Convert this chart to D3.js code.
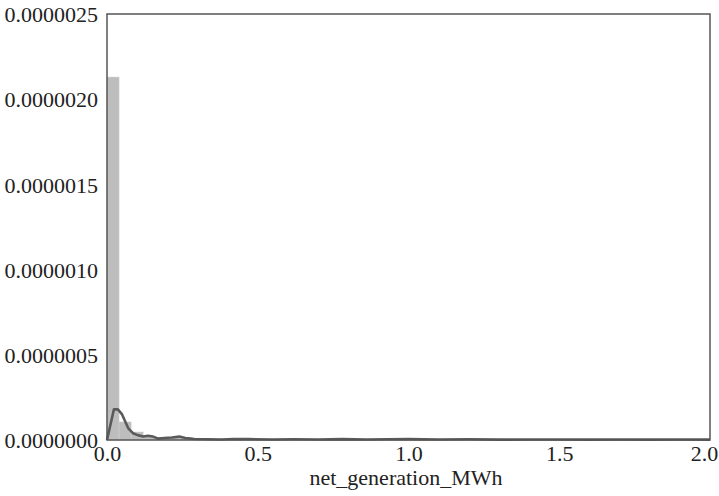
<!DOCTYPE html>
<html><head><meta charset="utf-8">
<script src="https://cdn.jsdelivr.net/npm/d3@7"></script>
<style>body{margin:0;background:#fff}</style>
</head><body>
<svg id="c" width="719" height="496"></svg>
<script>
// histogram bins (x in axis units, density in 1e-6)
const binWidth = 0.04;
const binStarts = [0.00, 0.04, 0.08, 0.12, 0.16, 0.20, 0.24];
const binHeights = [2.13, 0.106, 0.047, 0.02, 0.012, 0.012, 0.015];
// KDE line
const kdeX = [0, 0.023, 0.036, 0.05, 0.07, 0.086, 0.10, 0.12, 0.136, 0.153, 0.17, 0.19, 0.215, 0.24, 0.26, 0.29, 0.33, 0.38, 0.42, 0.47, 0.55, 0.62, 0.70, 0.78, 0.86, 0.93, 1.0, 1.1, 1.2, 1.3, 1.4, 1.5, 1.6, 1.7, 1.8, 1.9, 2.0];
const kdeY = [0, 0.18, 0.18, 0.15, 0.07, 0.04, 0.03, 0.02, 0.025, 0.02, 0.008, 0.012, 0.015, 0.02, 0.012, 0.006, 0.004, 0.003, 0.006, 0.005, 0.003, 0.004, 0.003, 0.005, 0.003, 0.004, 0.005, 0.003, 0.004, 0.002, 0.003, 0.003, 0.002, 0.003, 0.002, 0.003, 0.002];
const xTicks = [0, 0.5, 1.0, 1.5, 2.0];
const yTicks = [0, 0.5, 1.0, 1.5, 2.0, 2.5];
const yTickLabels = ["0.0000000","0.0000005","0.0000010","0.0000015","0.0000020","0.0000025"];
const xLabel = "net_generation_MWh";

const svg = d3.select("#c");
const L = 107, R = 710, T = 14, B = 440;
const x = d3.scaleLinear().domain([0, 2.0]).range([L, R]);
const y = d3.scaleLinear().domain([0, 2.5]).range([B, T]);
const font = '"Liberation Serif"';

svg.append("g").selectAll("rect").data(binStarts).join("rect")
  .attr("x", d => x(d)).attr("width", d => x(d + binWidth) - x(d))
  .attr("y", (d, i) => y(binHeights[i])).attr("height", (d, i) => B - y(binHeights[i]))
  .attr("fill", "#bdbdbd").attr("stroke", "#d0d0d0").attr("stroke-width", 0.5);

const line = d3.line().x(d => x(d[0])).y(d => y(d[1]));
svg.append("path").datum(kdeX.map((v, i) => [v, kdeY[i]]))
  .attr("d", line).attr("fill", "none").attr("stroke", "#5a5a5a").attr("stroke-width", 2.6)
  .attr("stroke-linejoin", "round");

svg.append("rect").attr("x", L).attr("y", T).attr("width", R - L).attr("height", B - T)
  .attr("fill", "none").attr("stroke", "#555").attr("stroke-width", 1.5);

const xAxis = svg.append("g").attr("transform", `translate(0,${B})`)
  .call(d3.axisBottom(x).tickValues(xTicks).tickSize(0).tickPadding(0).tickFormat(d3.format(".1f")));
xAxis.select(".domain").remove();
xAxis.selectAll("text").style("font-family", font).style("font-size", "22px").attr("fill", "#222")
  .attr("y", 21).attr("dy", 0)
  .attr("transform", d => d === 2.0 ? "translate(-6,0)" : null);

const yAxis = svg.append("g").attr("transform", `translate(${L},0)`)
  .call(d3.axisLeft(y).tickValues(yTicks).tickSize(0).tickPadding(0).tickFormat((d, i) => yTickLabels[i]));
yAxis.select(".domain").remove();
yAxis.selectAll("text").style("font-family", font).style("font-size", "22px").attr("fill", "#222")
  .attr("x", -9).attr("dy", "0.35em");

svg.append("text").attr("x", 406).attr("y", 485)
  .attr("text-anchor", "middle").style("font-family", font).style("font-size", "22px").attr("fill", "#222")
  .text(xLabel);
</script>
</body></html>
